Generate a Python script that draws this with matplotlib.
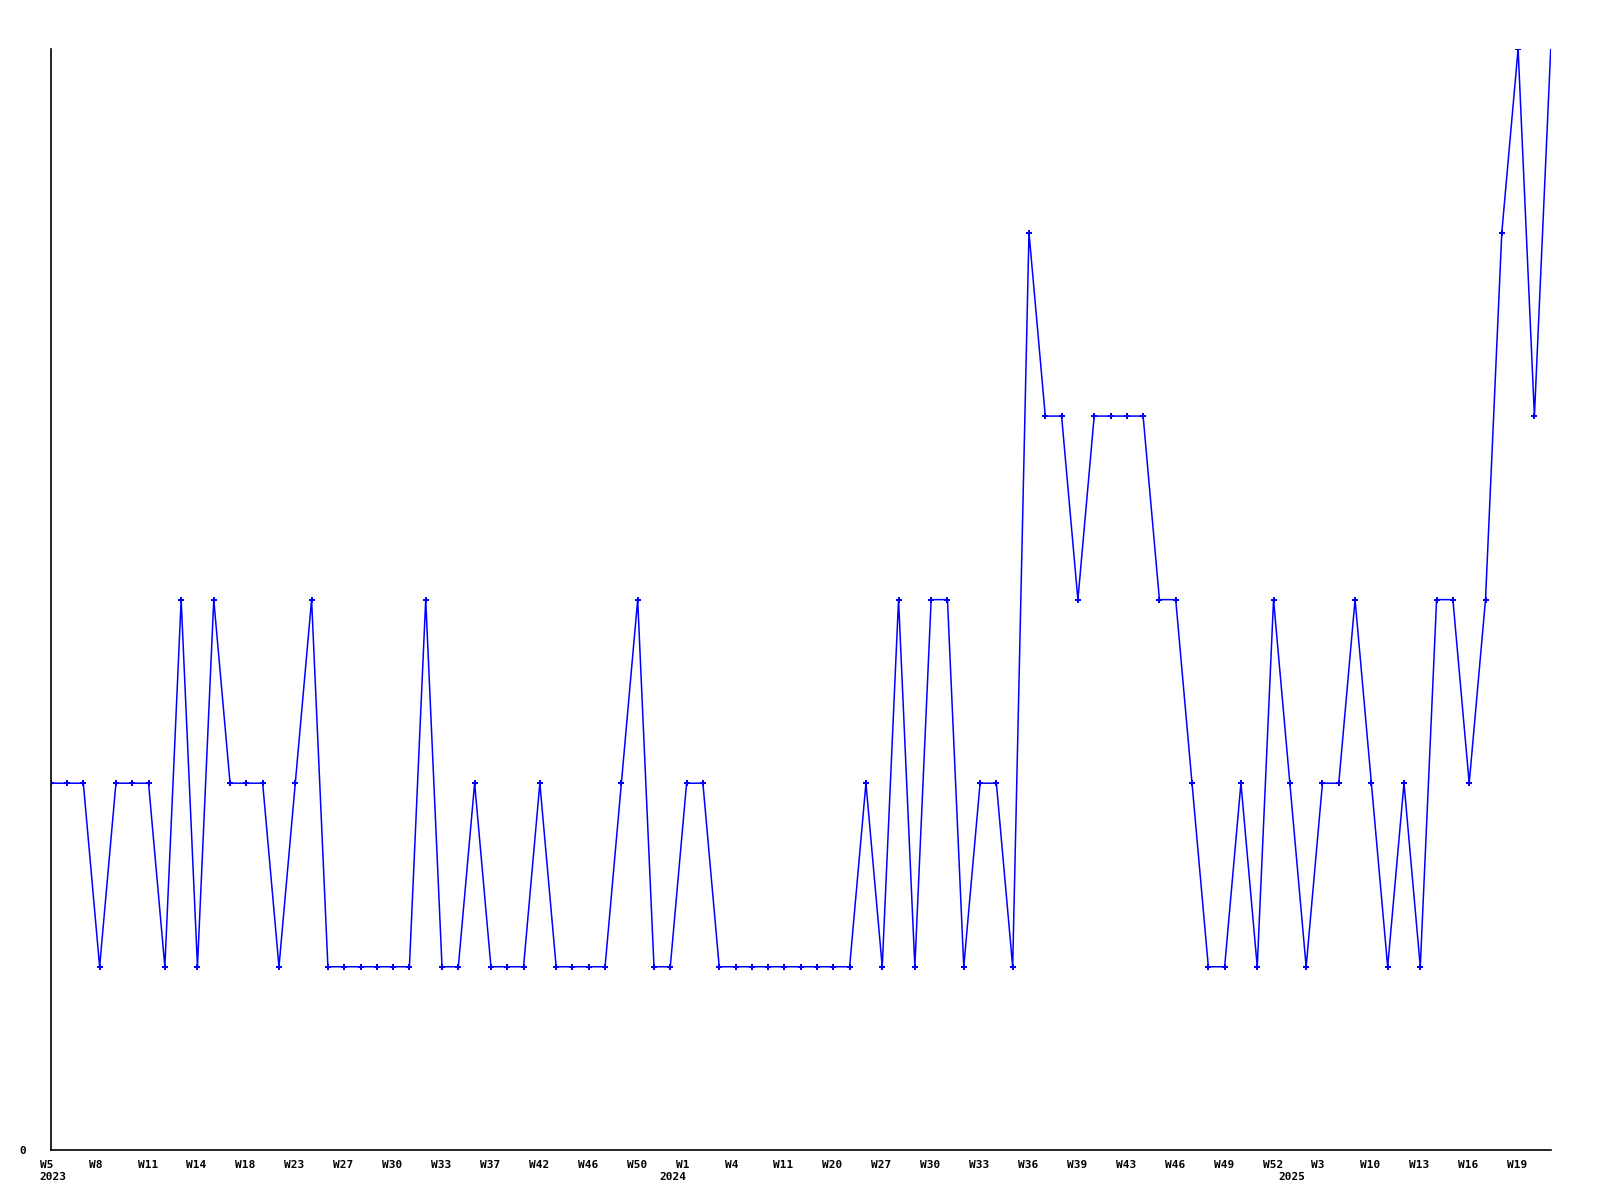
import matplotlib
matplotlib.use("Agg")
import matplotlib.pyplot as plt
import matplotlib.transforms as mtransforms
import numpy as np

# weekly counts, one point per week
values = [2, 2, 2, 1, 2, 2, 2, 1, 3, 1,
          3, 2, 2, 2, 1, 2, 3, 1, 1, 1,
          1, 1, 1, 3, 1, 1, 2, 1, 1, 1,
          2, 1, 1, 1, 1, 2, 3, 1, 1, 2,
          2, 1, 1, 1, 1, 1, 1, 1, 1, 1,
          2, 1, 3, 1, 3, 3, 1, 2, 2, 1,
          5, 4, 4, 3, 4, 4, 4, 4, 3, 3,
          2, 1, 1, 2, 1, 3, 2, 1, 2, 2,
          3, 2, 1, 2, 1, 3, 3, 2, 3, 5,
          6, 4, 6]

# every third week is labelled
week_labels = ["W5", "W8", "W11", "W14", "W18", "W23", "W27", "W30", "W33", "W37",
               "W42", "W46", "W50", "W1", "W4", "W11", "W20", "W27", "W30", "W33",
               "W36", "W39", "W43", "W46", "W49", "W52", "W3", "W10", "W13", "W16",
               "W19"]
years = ["2023", "2024", "2025"]
year_start_idx = [0, 38, 76]

font = dict(family="DejaVu Sans Mono", weight="bold", size=8)

fig = plt.figure(figsize=(16, 12), dpi=100)
ax = fig.add_axes([0.0317, 0.0414, 0.9375, 0.9178])

x = np.arange(len(values))
# last week is still running, so no marker on it
ax.plot(x, values, color="#0000ff", linewidth=1.1, marker="P", markersize=4.5,
        markeredgewidth=0, markevery=list(range(len(values) - 1)))

ax.set_xlim(0, len(values) - 1)
ax.set_ylim(0, 6)

for s in ["top", "right"]:
    ax.spines[s].set_visible(False)
for s in ["left", "bottom"]:
    ax.spines[s].set_linewidth(1.2)

ax.set_yticks([0])
ax.set_yticklabels(["0"], **font)
ax.tick_params(axis="y", length=0, pad=18)

ax.set_xticks(x[::3])
ax.set_xticklabels(week_labels, **font)
ax.tick_params(axis="x", length=0, pad=7)
shift = mtransforms.ScaledTranslation(-11 / 100, 0, fig.dpi_scale_trans)
for lab in ax.get_xticklabels():
    lab.set_ha("left")
    lab.set_transform(lab.get_transform() + shift)

trans = mtransforms.blended_transform_factory(ax.transData, ax.transAxes)
trans = trans + mtransforms.ScaledTranslation(-11 / 100, -22 / 100, fig.dpi_scale_trans)
for yr, i in zip(years, year_start_idx):
    ax.text(x[i], 0, yr, transform=trans, ha="left", va="top", **font)

fig.savefig("out.png", dpi=100, facecolor="white")
